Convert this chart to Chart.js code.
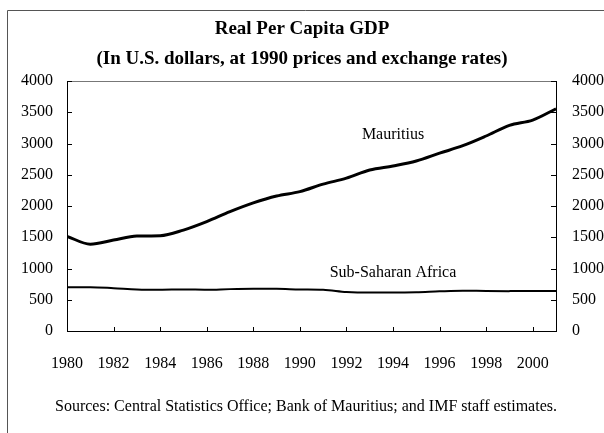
<!DOCTYPE html>
<html>
<head>
<meta charset="utf-8">
<script src="https://cdn.jsdelivr.net/npm/chart.js@4"></script>
<style>
  body { margin: 0; background: #fff; }
  #wrap { position: relative; width: 604px; height: 433px; }
</style>
</head>
<body>
<div id="wrap">
  <canvas id="gdpChart" width="604" height="433"></canvas>
</div>
<script>
// data
const years = [1980, 1981, 1982, 1983, 1984, 1985, 1986, 1987, 1988, 1989, 1990,
  1991, 1992, 1993, 1994, 1995, 1996, 1997, 1998, 1999, 2000, 2001];
const mauritius = [1515, 1390, 1455, 1520, 1525, 1615, 1750, 1910, 2050, 2160, 2230,
  2350, 2445, 2575, 2640, 2720, 2845, 2965, 3120, 3290, 3375, 3555];
const subSaharan = [700, 700, 685, 665, 660, 665, 660, 670, 675, 675, 665,
  660, 625, 615, 615, 620, 635, 645, 640, 638, 640, 640];
const yearTicks = [1980, 1982, 1984, 1986, 1988, 1990, 1992, 1994, 1996, 1998, 2000];
const valueTicks = [0, 500, 1000, 1500, 2000, 2500, 3000, 3500, 4000];

const titleLines = ["Real Per Capita GDP", "(In U.S. dollars, at 1990 prices and exchange rates)"];
const sourceNote = "Sources: Central Statistics Office; Bank of Mauritius; and IMF staff estimates.";
const seriesLabels = [
  { text: "Mauritius", year: 1994, value: 3070 },
  { text: "Sub-Saharan Africa", year: 1994, value: 860 },
];

const serif = "'Liberation Serif', 'Times New Roman', serif";

// titles, frame, inward tick marks and in-chart labels
const decorations = {
  id: "decorations",
  afterDraw(chart) {
    const ctx = chart.ctx;
    const area = chart.chartArea;
    const x = chart.scales.x;
    const y = chart.scales.y;
    ctx.save();

    // outer frame (top and left only, as in the scan)
    ctx.strokeStyle = "#555";
    ctx.lineWidth = 1;
    ctx.beginPath();
    ctx.moveTo(7.5, 433);
    ctx.lineTo(7.5, 10.5);
    ctx.lineTo(604, 10.5);
    ctx.stroke();

    // top edge of plot box
    ctx.strokeStyle = "#777";
    ctx.beginPath();
    ctx.moveTo(area.left, area.top + 0.5);
    ctx.lineTo(area.right, area.top + 0.5);
    ctx.stroke();

    // tick marks pointing into the plot
    ctx.strokeStyle = "#000";
    ctx.beginPath();
    valueTicks.forEach((v) => {
      const py = Math.round(y.getPixelForValue(v)) + 0.5;
      ctx.moveTo(area.left, py);
      ctx.lineTo(area.left + 5, py);
      ctx.moveTo(area.right, py);
      ctx.lineTo(area.right - 5, py);
    });
    yearTicks.forEach((v) => {
      const px = Math.round(x.getPixelForValue(v)) + 0.5;
      ctx.moveTo(px, area.bottom);
      ctx.lineTo(px, area.bottom - 4);
    });
    ctx.stroke();

    // title
    ctx.fillStyle = "#000";
    ctx.textAlign = "center";
    ctx.textBaseline = "alphabetic";
    ctx.font = "bold 19px " + serif;
    ctx.fillText(titleLines[0], 302, 34);
    ctx.fillText(titleLines[1], 302, 64);

    // series labels
    ctx.font = "16px " + serif;
    seriesLabels.forEach((l) => {
      ctx.fillText(l.text, x.getPixelForValue(l.year), y.getPixelForValue(l.value));
    });

    // source note
    ctx.font = "16px " + serif;
    ctx.fillText(sourceNote, 306, 411);
    ctx.restore();
  },
};

const fixWidth = (w) => (scale) => { scale.width = w; };

new Chart(document.getElementById("gdpChart"), {
  type: "line",
  data: {
    labels: years,
    datasets: [
      {
        label: "Mauritius",
        data: years.map((yr, i) => ({ x: yr, y: mauritius[i] })),
        borderColor: "#000",
        borderWidth: 3,
        pointRadius: 0,
        cubicInterpolationMode: "monotone",
      },
      {
        label: "Sub-Saharan Africa",
        data: years.map((yr, i) => ({ x: yr, y: subSaharan[i] })),
        borderColor: "#000",
        borderWidth: 2,
        pointRadius: 0,
        cubicInterpolationMode: "monotone",
      },
    ],
  },
  options: {
    responsive: false,
    animation: false,
    devicePixelRatio: 1,
    layout: { padding: { top: 81, bottom: 40, left: 0, right: 0 } },
    plugins: {
      legend: { display: false },
      tooltip: { enabled: false },
    },
    scales: {
      x: {
        type: "linear",
        min: 1980,
        max: 2001,
        afterBuildTicks: (scale) => { scale.ticks = yearTicks.map((v) => ({ value: v })); },
        afterFit: (scale) => { scale.height = 62; },
        grid: { display: false, drawTicks: false },
        border: { display: true, color: "#000", width: 1 },
        ticks: {
          color: "#000",
          font: { family: serif, size: 16 },
          padding: 23,
          maxRotation: 0,
          callback: (v) => String(v),
        },
      },
      y: {
        position: "left",
        min: 0,
        max: 4000,
        afterBuildTicks: (scale) => { scale.ticks = valueTicks.map((v) => ({ value: v })); },
        afterFit: fixWidth(67),
        grid: { display: false, drawTicks: false },
        border: { display: true, color: "#000", width: 1 },
        ticks: {
          color: "#000",
          font: { family: serif, size: 16 },
          padding: 14,
          callback: (v) => String(v),
        },
      },
      y2: {
        position: "right",
        min: 0,
        max: 4000,
        afterBuildTicks: (scale) => { scale.ticks = valueTicks.map((v) => ({ value: v })); },
        afterFit: fixWidth(48),
        grid: { display: false, drawTicks: false },
        border: { display: true, color: "#000", width: 1 },
        ticks: {
          color: "#000",
          font: { family: serif, size: 16 },
          padding: 16,
          callback: (v) => String(v),
        },
      },
    },
  },
  plugins: [decorations],
});
</script>
</body>
</html>
